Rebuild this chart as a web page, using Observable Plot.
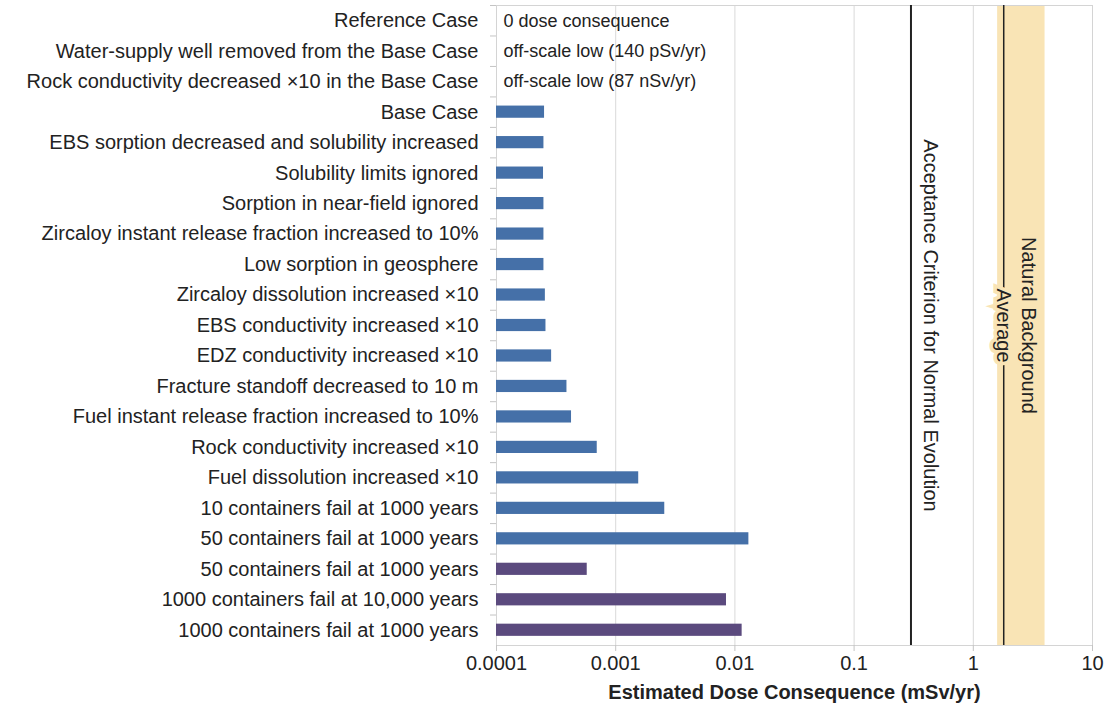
<!DOCTYPE html>
<html><head><meta charset="utf-8">
<script src="https://cdn.jsdelivr.net/npm/d3@7"></script>
<script src="https://cdn.jsdelivr.net/npm/@observablehq/plot@0.6"></script>
<style>body{margin:0;background:#fff;}</style>
</head><body><div id="chart"></div>
<script>
const cases = [
  "Reference Case",
  "Water-supply well removed from the Base Case",
  "Rock conductivity decreased \u00d710 in the Base Case",
  "Base Case",
  "EBS sorption decreased and solubility increased",
  "Solubility limits ignored",
  "Sorption in near-field ignored",
  "Zircaloy instant release fraction increased to 10%",
  "Low sorption in geosphere",
  "Zircaloy dissolution increased \u00d710",
  "EBS conductivity increased \u00d710",
  "EDZ conductivity increased \u00d710",
  "Fracture standoff decreased to 10 m",
  "Fuel instant release fraction increased to 10%",
  "Rock conductivity increased \u00d710",
  "Fuel dissolution increased \u00d710",
  "10 containers fail at 1000 years",
  "50 containers fail at 1000 years",
  "50 containers fail at 1000 years",
  "1000 containers fail at 10,000 years",
  "1000 containers fail at 1000 years"
];
const doses = [null, null, null,
  2.53e-4, 2.5e-4, 2.48e-4, 2.5e-4, 2.5e-4, 2.5e-4, 2.57e-4, 2.6e-4, 2.9e-4,
  3.9e-4, 4.26e-4, 7.0e-4, 1.56e-3, 2.58e-3, 0.0131,
  5.77e-4, 8.5e-3, 0.0115];
const groups = ["none","none","none",
  "base","base","base","base","base","base","base","base","base",
  "base","base","base","base","base","base",
  "purple","purple","purple"];
const notes = ["0 dose consequence", "off-scale low (140 pSv/yr)", "off-scale low (87 nSv/yr)"];
const xTicks = [0.0001, 0.001, 0.01, 0.1, 1, 10];
const xDomain = [0.0001, 10];
const acceptance = 0.3;
const backgroundAvg = 1.8;
const backgroundRange = [1.6, 4];

const rows = cases.map((c, i) => ({i, c, dose: doses[i], group: groups[i]}));
const bars = rows.filter(d => d.dose != null);
const noteRows = notes.map((t, i) => ({i, t}));

const H = 707, mt = 5, mb = 62;
const step = (H - mt - mb) / cases.length;

const chart = Plot.plot({
  width: 1111,
  height: H,
  marginTop: mt,
  marginBottom: mb,
  marginLeft: 496,
  marginRight: 19,
  style: {fontFamily: "'Liberation Sans', Arial, sans-serif", color: "#222", background: "#fff"},
  x: {type: "log", domain: xDomain},
  y: {type: "band", domain: rows.map(d => d.i), paddingInner: 0.6, paddingOuter: 0.3, round: false},
  color: {domain: ["base", "purple"], range: ["#4570a8", "#5b4a7e"]},
  marks: [
    Plot.rectX([backgroundRange], {x1: d => d[0], x2: d => d[1], fill: "#f9e4b5"}),
    Plot.ruleX(xTicks, {stroke: "#d9d9d9", strokeWidth: 1}),
    Plot.frame({stroke: "#d4d4d4"}),
    Plot.barX(bars, {x1: () => xDomain[0], x2: "dose", y: "i", fill: "group"}),
    Plot.text(noteRows, {x: () => xDomain[0], y: "i", text: "t", textAnchor: "start", dx: 7, fontSize: 18, fill: "#222"}),
    Plot.ruleX([acceptance], {stroke: "#222", strokeWidth: 2}),
    Plot.ruleX([backgroundAvg], {stroke: "#222", strokeWidth: 1.5}),
    Plot.text([acceptance], {x: d => d, frameAnchor: "middle", rotate: 90, dx: 19, text: () => "Acceptance Criterion for Normal Evolution", fontSize: 20, fill: "#222"}),
    Plot.text([backgroundAvg], {x: d => d, frameAnchor: "middle", rotate: 90, dx: 25, text: () => "Natural Background", fontSize: 20, fill: "#222"}),
    Plot.text([backgroundAvg], {x: d => d, frameAnchor: "middle", rotate: 90, dx: 0, text: () => "Average", fontSize: 20, fill: "#222", stroke: "#f9e4b5", strokeWidth: 7, strokeLinejoin: "miter"}),
    Plot.axisY({tickSize: 0, tickPadding: 18, fontSize: 20, tickFormat: i => cases[i], label: null}),
    Plot.axisY({tickSize: 6, tickFormat: () => "", dy: -step / 2, stroke: "#c4c4c4", label: null}),
    Plot.axisX({ticks: xTicks, tickSize: 6, tickPadding: 4, fontSize: 20, tickFormat: d => String(d), stroke: "#c4c4c4", label: null}),
    Plot.text([0], {frameAnchor: "bottom", dy: 47, lineAnchor: "middle", text: () => "Estimated Dose Consequence (mSv/yr)", fontWeight: "bold", fontSize: 20, fill: "#222"})
  ]
});
document.getElementById("chart").appendChild(chart);
</script>
</body></html>
